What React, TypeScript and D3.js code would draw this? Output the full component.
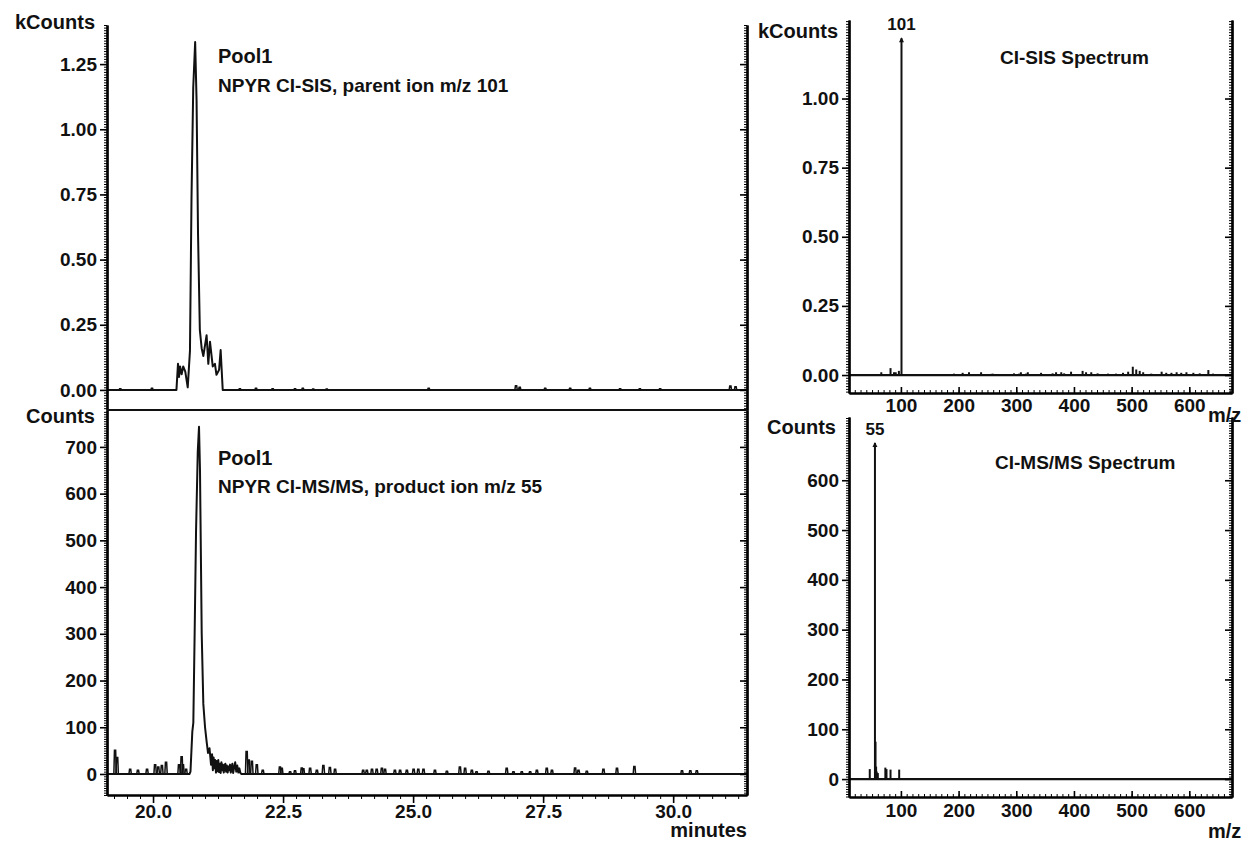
import React, { useEffect, useRef } from "react";
import * as d3 from "d3";

const W = 1244;
const H = 841;
const FONT = "'Liberation Sans', Arial, Helvetica, sans-serif";

// Chromatogram 1: NPYR CI-SIS, parent ion m/z 101  [minutes, kCounts]
const sisTrace: [number, number][] = [
  [19.12, 0], [20.45, 0], [20.48, 0.1], [20.5, 0.05], [20.52, 0.09], [20.55, 0.06],
  [20.58, 0.09], [20.62, 0.07], [20.667, 0.01], [20.71, 0.15], [20.74, 0.74],
  [20.773, 1.16], [20.81, 1.335], [20.837, 1.11], [20.865, 0.6], [20.9, 0.23],
  [20.935, 0.16], [20.967, 0.13], [21.03, 0.21], [21.063, 0.1], [21.095, 0.185],
  [21.148, 0.09], [21.19, 0.1], [21.22, 0.058], [21.27, 0.077], [21.3, 0.153],
  [21.34, 0], [31.42, 0],
];
const sisBlips: [number, number][] = [
  [19.37, 0.005], [19.98, 0.006], [21.67, 0.005], [21.98, 0.006], [22.3, 0.005],
  [22.73, 0.005], [22.88, 0.006], [23.08, 0.004], [23.34, 0.004], [25.3, 0.006],
  [26.98, 0.016], [27.05, 0.01], [27.54, 0.006], [28.02, 0.006], [28.4, 0.006],
  [28.98, 0.005], [29.36, 0.005], [29.75, 0.005], [31.1, 0.015], [31.2, 0.012],
];

// Chromatogram 2: NPYR CI-MS/MS, product ion m/z 55  [minutes, Counts]
const msmsTrace: [number, number][] = [
  [19.12, 0], [20.7, 0], [20.72, 5], [20.755, 90], [20.775, 110], [20.8, 300],
  [20.827, 520], [20.86, 690], [20.884, 743], [20.903, 650], [20.936, 300],
  [20.967, 150], [21.0, 100], [21.03, 70], [21.057, 45], [21.086, 55], [21.115, 20],
  [21.135, 42], [21.15, 8], [21.165, 35], [21.18, 12], [21.195, 30], [21.21, 3],
  [21.225, 28], [21.24, 6], [21.255, 30], [21.27, 4], [21.285, 22], [21.3, 2],
  [21.315, 25], [21.33, 8], [21.345, 20], [21.36, 3], [21.375, 18], [21.39, 22],
  [21.405, 5], [21.42, 18], [21.435, 3], [21.45, 16], [21.465, 8], [21.48, 20],
  [21.495, 3], [21.51, 14], [21.525, 22], [21.54, 2], [21.56, 14], [21.58, 25],
  [21.6, 5], [21.62, 18], [21.64, 3], [21.66, 12], [21.68, 2], [21.7, 0], [31.42, 0],
];
const msmsBlips: [number, number][] = [
  [19.27, 51], [19.31, 35], [19.56, 10], [19.71, 8], [19.885, 10], [20.04, 20],
  [20.1, 15], [20.17, 18], [20.25, 25], [20.5, 20], [20.55, 37], [20.575, 20],
  [20.635, 10], [21.8, 48], [21.84, 30], [21.9, 27], [21.995, 20], [22.11, 8],
  [22.44, 15], [22.475, 12], [22.635, 5], [22.73, 7], [22.86, 13], [22.89, 11],
  [23.02, 12], [23.15, 8], [23.275, 18], [23.4, 14], [23.5, 10], [24.04, 8],
  [24.11, 8], [24.21, 10], [24.3, 10], [24.4, 12], [24.46, 10], [24.65, 8],
  [24.75, 8], [24.88, 8], [25.01, 10], [25.1, 10], [25.2, 10], [25.42, 8],
  [25.65, 6], [25.9, 15], [26.0, 12], [26.13, 8], [26.22, 5], [26.45, 6],
  [26.8, 12], [26.93, 5], [27.09, 5], [27.25, 5], [27.38, 8], [27.57, 12],
  [27.67, 8], [28.115, 13], [28.18, 8], [28.34, 6], [28.66, 10], [28.92, 12],
  [29.255, 16], [30.17, 7], [30.33, 7], [30.455, 7],
];

// CI-SIS spectrum  [m/z, kCounts]
const sisSpectrum: [number, number][] = [
  [66, 0.01], [82, 0.025], [88, 0.01], [91, 0.01], [96.5, 0.015], [101, 1.218],
  [192, 0.005], [207, 0.008], [218, 0.01], [239, 0.01], [256, 0.004], [259, 0.005],
  [296, 0.006], [305, 0.005], [308, 0.01], [317, 0.005], [320, 0.01], [343, 0.008],
  [363, 0.006], [369, 0.01], [378, 0.01], [383, 0.006], [395, 0.012], [415, 0.015],
  [421, 0.01], [430, 0.01], [441, 0.006], [459, 0.005], [473, 0.005], [485, 0.008],
  [494, 0.012], [502, 0.03], [508, 0.02], [514, 0.015], [520, 0.01], [534, 0.005],
  [552, 0.012], [560, 0.008], [569, 0.008], [578, 0.01], [586, 0.008], [595, 0.01],
  [607, 0.008], [618, 0.006], [633, 0.018], [641, 0.005],
];

// CI-MS/MS spectrum  [m/z, Counts]
const msmsSpectrum: [number, number][] = [
  [46, 20], [55, 675], [56, 75], [57, 25], [58, 15], [60, 12], [73, 23], [75, 20],
  [82, 19], [97, 19],
];

const timeTicks = [20, 22.5, 25, 27.5, 30];
const kTicksLeft = [0, 0.25, 0.5, 0.75, 1.0, 1.25];
const countTicksLeft = [0, 100, 200, 300, 400, 500, 600, 700];
const kTicksRight = [0, 0.25, 0.5, 0.75, 1.0];
const countTicksRight = [0, 100, 200, 300, 400, 500, 600];
const mzTicks = [100, 200, 300, 400, 500, 600];

type Sel = d3.Selection<SVGGElement, unknown, null, undefined>;

function styleAxis(g: Sel, sw: number) {
  g.select(".domain").attr("stroke-width", 2.2);
  g.selectAll(".tick line").attr("stroke-width", sw);
  g.selectAll(".tick text")
    .attr("font-family", FONT)
    .attr("font-weight", "bold")
    .attr("font-size", 19)
    .attr("fill", "#111");
}

function yAxis(root: Sel, y: d3.ScaleLinear<number, number>, x: number, majors: number[],
  minorStep: number, fmt: ((d: number) => string) | null) {
  const [lo, hi] = y.domain();
  const minors = d3.range(Math.ceil(lo / minorStep), Math.floor(hi / minorStep) + 1).map((i) => i * minorStep);
  root.append("g").attr("transform", `translate(${x},0)`)
    .call(d3.axisLeft(y).tickValues(minors).tickSize(3).tickSizeOuter(0).tickFormat(() => ""))
    .call((g) => styleAxis(g, 1));
  root.append("g").attr("transform", `translate(${x},0)`)
    .call(d3.axisLeft(y).tickValues(majors).tickSize(7).tickPadding(3).tickSizeOuter(0)
      .tickFormat((d) => (fmt ? fmt(d as number) : "")))
    .call((g) => styleAxis(g, 1.6));
}

function label(root: Sel, x: number, y: number, text: string, size: number, anchor = "start") {
  root.append("text")
    .attr("x", x).attr("y", y)
    .attr("text-anchor", anchor)
    .attr("font-family", FONT)
    .attr("font-weight", "bold")
    .attr("font-size", size)
    .attr("fill", "#111")
    .text(text);
}

function trace(root: Sel, x: d3.ScaleLinear<number, number>, y: d3.ScaleLinear<number, number>,
  pts: [number, number][], blips: [number, number][]) {
  const line = d3.line<[number, number]>().x((d) => x(d[0])).y((d) => y(d[1]));
  root.append("path").attr("d", line(pts)).attr("fill", "none")
    .attr("stroke", "#111").attr("stroke-width", 2).attr("stroke-linejoin", "round");
  root.append("g").selectAll("path").data(blips).join("path")
    .attr("d", (d) => `M${x(d[0]) - 1.2},${y(0)}L${x(d[0]) - 0.6},${y(d[1])}L${x(d[0]) + 0.6},${y(d[1])}L${x(d[0]) + 1.2},${y(0)}`)
    .attr("fill", "none").attr("stroke", "#111").attr("stroke-width", 1.5);
}

function sticks(root: Sel, x: d3.ScaleLinear<number, number>, y: d3.ScaleLinear<number, number>,
  data: [number, number][]) {
  const [m0, m1] = x.domain();
  root.append("line").attr("x1", x(m0)).attr("x2", x(m1)).attr("y1", y(0)).attr("y2", y(0))
    .attr("stroke", "#111").attr("stroke-width", 2.2);
  root.append("g").selectAll("line").data(data).join("line")
    .attr("x1", (d) => x(d[0])).attr("x2", (d) => x(d[0]))
    .attr("y1", y(0)).attr("y2", (d) => y(d[1]))
    .attr("stroke", "#111").attr("stroke-width", 2);
  const top = data.reduce((a, b) => (b[1] > a[1] ? b : a));
  root.append("path")
    .attr("d", `M${x(top[0]) - 2.5},${y(top[1]) + 4}L${x(top[0])},${y(top[1]) - 1}L${x(top[0]) + 2.5},${y(top[1]) + 4}Z`)
    .attr("fill", "#111");
  label(root, x(top[0]), y(top[1]) - 8, String(top[0]), 17, "middle");
}

export default function App() {
  const svgRef = useRef<SVGSVGElement>(null);

  useEffect(() => {
    const svg = d3.select(svgRef.current);
    svg.selectAll("*").remove();
    const root = svg.append("g") as unknown as Sel;

    // ---------- left: chromatograms ----------
    const xt = d3.scaleLinear().domain([19.115, 31.42]).range([107, 747]);
    const yTop = d3.scaleLinear().domain([-0.077, 1.4]).range([410, 25]);
    const yBot = d3.scaleLinear().domain([-45, 779]).range([795, 410]);

    trace(root, xt, yTop, sisTrace, sisBlips);
    trace(root, xt, yBot, msmsTrace, msmsBlips);

    yAxis(root, yTop, 107, kTicksLeft, 0.01, (d) => d.toFixed(2));
    yAxis(root, yBot, 107, countTicksLeft, 5, (d) => String(d));
    yAxis(root, yTop, 747, kTicksLeft, 0.01, null);
    yAxis(root, yBot, 747, countTicksLeft, 5, null);

    // separator between the two chromatograms
    root.append("line").attr("x1", 107).attr("x2", 747).attr("y1", 410).attr("y2", 410)
      .attr("stroke", "#111").attr("stroke-width", 2.2);

    const tMinor = d3.range(77, 126).map((i) => i * 0.25);
    root.append("g").attr("transform", "translate(0,795)")
      .call(d3.axisBottom(xt).tickValues(tMinor).tickSize(4).tickSizeOuter(0).tickFormat(() => ""))
      .call((g) => styleAxis(g, 1));
    root.append("g").attr("transform", "translate(0,795)")
      .call(d3.axisBottom(xt).tickValues(timeTicks).tickSize(8).tickPadding(2).tickSizeOuter(0)
        .tickFormat((d) => (d as number).toFixed(1)))
      .call((g) => styleAxis(g, 1.6));

    label(root, 95, 29, "kCounts", 20, "end");
    label(root, 95, 423, "Counts", 20, "end");
    label(root, 747, 837, "minutes", 20, "end");
    label(root, 218, 63, "Pool1", 20);
    label(root, 218, 92, "NPYR CI-SIS, parent ion m/z 101", 19);
    label(root, 218, 465, "Pool1", 20);
    label(root, 218, 493, "NPYR CI-MS/MS, product ion m/z 55", 19);

    // ---------- right: spectra ----------
    const xm = d3.scaleLinear().domain([10, 674]).range([849, 1232]);
    const ySis = d3.scaleLinear().domain([-0.065, 1.284]).range([393, 20]);
    const yMs = d3.scaleLinear().domain([-36, 727]).range([797, 417]);

    sticks(root, xm, ySis, sisSpectrum);
    sticks(root, xm, yMs, msmsSpectrum);

    yAxis(root, ySis, 849, kTicksRight, 0.01, (d) => d.toFixed(2));
    yAxis(root, yMs, 849, countTicksRight, 5, (d) => String(d));
    yAxis(root, ySis, 1232, kTicksRight, 0.01, null);
    yAxis(root, yMs, 1232, countTicksRight, 5, null);

    const mzMinor = d3.range(2, 68).map((i) => i * 10);
    [[393, 6], [797, 7]].forEach(([yy, pad]) => {
      root.append("g").attr("transform", `translate(0,${yy})`)
        .call(d3.axisBottom(xm).tickValues(mzMinor).tickSize(-3).tickSizeOuter(0).tickFormat(() => ""))
        .call((g) => styleAxis(g, 1));
      root.append("g").attr("transform", `translate(0,${yy})`)
        .call(d3.axisBottom(xm).tickValues(mzTicks).tickSize(-6).tickPadding(pad).tickSizeOuter(0)
          .tickFormat((d) => String(d)))
        .call((g) => styleAxis(g, 1.6));
    });

    label(root, 838, 38, "kCounts", 20, "end");
    label(root, 836, 434, "Counts", 20, "end");
    label(root, 1208, 422, "m/z", 20);
    label(root, 1208, 838, "m/z", 20);
    label(root, 1000, 64, "CI-SIS Spectrum", 19);
    label(root, 995, 469, "CI-MS/MS Spectrum", 19);
  }, []);

  return (
    <svg ref={svgRef} width={W} height={H}
      style={{ position: "absolute", left: 0, top: 0, background: "#fff" }} />
  );
}
